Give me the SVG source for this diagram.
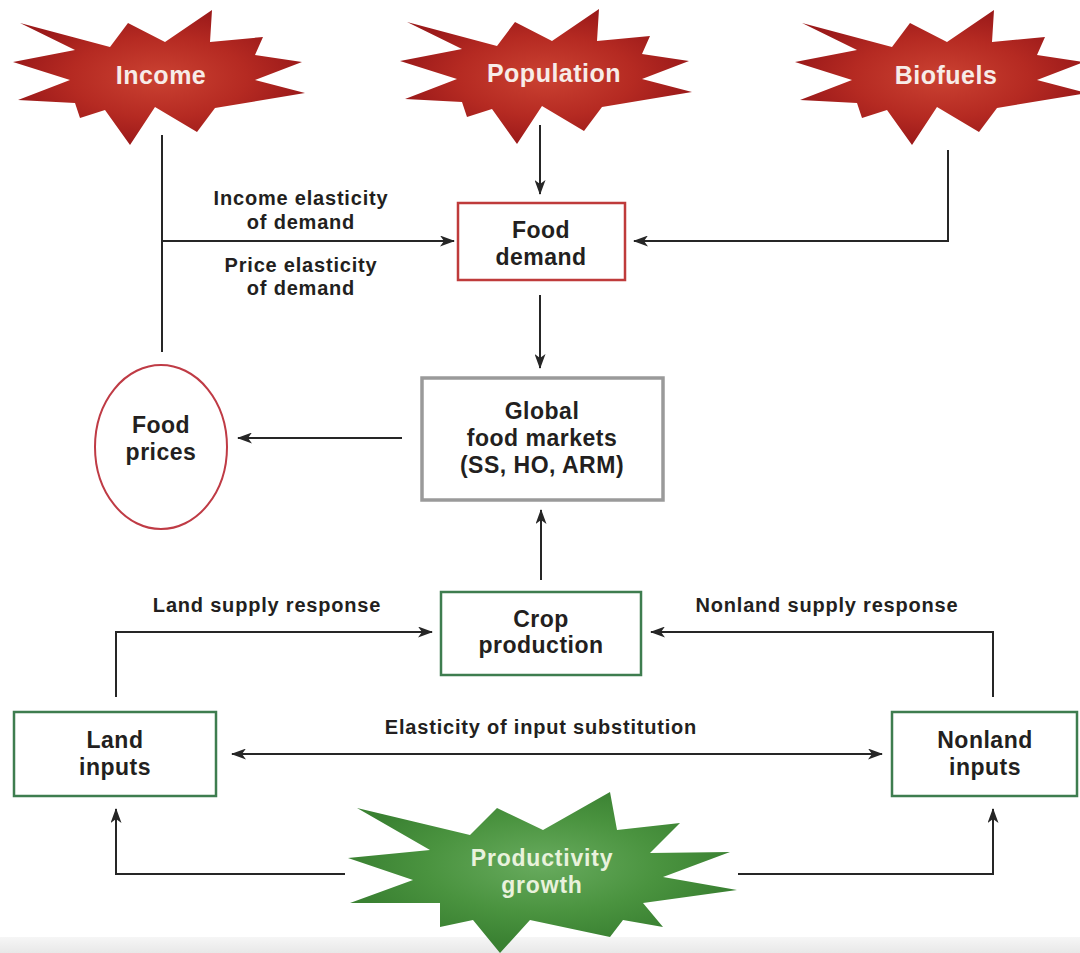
<svg xmlns="http://www.w3.org/2000/svg" xmlns:xlink="http://www.w3.org/1999/xlink" width="1080" height="953" viewBox="0 0 1080 953">
<style>
.t{font-family:"Liberation Sans",Arial,sans-serif;font-weight:bold;fill:#231f20;text-anchor:middle}
.n{font-size:23px;letter-spacing:0.5px}
.l{font-size:20px;letter-spacing:0.8px}
.s{font-size:25px;letter-spacing:0.5px;fill:#f7ece8}
.g{font-size:23px;letter-spacing:0.8px;fill:#e9f2dc}
.c{fill:none;stroke:#262626;stroke-width:2}
</style>
<defs>
<radialGradient id="rg" cx="0.5" cy="0.5" r="0.5">
<stop offset="0" stop-color="#cb4232"/>
<stop offset="0.6" stop-color="#b52a22"/>
<stop offset="1" stop-color="#9c1a1a"/>
</radialGradient>
<radialGradient id="gg" cx="0.5" cy="0.45" r="0.5">
<stop offset="0" stop-color="#68ab5e"/>
<stop offset="0.6" stop-color="#4a933f"/>
<stop offset="1" stop-color="#3a8132"/>
</radialGradient>
<linearGradient id="band" x1="0" y1="0" x2="0" y2="1">
<stop offset="0" stop-color="#f6f6f6"/>
<stop offset="1" stop-color="#e8e8e8"/>
</linearGradient>
<path id="star" d="M-140,-52 L-85,-25 L-147,-13 L-90,5 L-142,25 L-85,28 L-80,43 L-55,35 L-30,70 L-5,32 L37,57 L55,33 L145,18 L95,5 L142,-13 L95,-20 L103,-38 L50,-33 L52,-65 L5,-33 L-32,-52 L-50,-28 Z"/>
<marker id="ah" viewBox="0 0 15 11" refX="14" refY="5.5" markerWidth="15" markerHeight="11" markerUnits="userSpaceOnUse" orient="auto-start-reverse">
<path d="M0,0 L15,5.5 L0,11 L4,5.5 Z" fill="#262626"/>
</marker>
</defs>
<rect width="1080" height="953" fill="#ffffff"/>
<rect y="937" width="1080" height="16" fill="url(#band)"/>

<g id="connectors">
<polyline class="c" points="162,135 162,352"/>
<line class="c" x1="162" y1="241" x2="454" y2="241" marker-end="url(#ah)"/>
<line class="c" x1="540" y1="125" x2="540" y2="194" marker-end="url(#ah)"/>
<polyline class="c" points="948,150 948,241 634,241" marker-end="url(#ah)"/>
<line class="c" x1="540" y1="295" x2="540" y2="368" marker-end="url(#ah)"/>
<line class="c" x1="402" y1="438" x2="238" y2="438" marker-end="url(#ah)"/>
<line class="c" x1="541" y1="580" x2="541" y2="510" marker-end="url(#ah)"/>
<polyline class="c" points="116,697 116,632 432,632" marker-end="url(#ah)"/>
<polyline class="c" points="993,697 993,632 651,632" marker-end="url(#ah)"/>
<line class="c" x1="232" y1="754" x2="882" y2="754" marker-start="url(#ah)" marker-end="url(#ah)"/>
<polyline class="c" points="345,874 116,874 116,809" marker-end="url(#ah)"/>
<polyline class="c" points="738,874 993,874 993,809" marker-end="url(#ah)"/>
</g>

<g id="labels">
<text class="t l" x="301" y="205">Income elasticity</text>
<text class="t l" x="301" y="229">of demand</text>
<text class="t l" x="301" y="272">Price elasticity</text>
<text class="t l" x="301" y="295">of demand</text>
<text class="t l" x="267" y="612">Land supply response</text>
<text class="t l" x="827" y="612">Nonland supply response</text>
<text class="t l" x="541" y="734">Elasticity of input substitution</text>
</g>

<g id="income">
<use xlink:href="#star" href="#star" transform="translate(160,75)" fill="url(#rg)"/>
<text class="t s" x="161" y="84">Income</text>
</g>
<g id="population">
<use xlink:href="#star" href="#star" transform="translate(547,74)" fill="url(#rg)"/>
<text class="t s" x="554" y="82">Population</text>
</g>
<g id="biofuels">
<use xlink:href="#star" href="#star" transform="translate(942,75)" fill="url(#rg)"/>
<text class="t s" x="946" y="84">Biofuels</text>
</g>

<g id="food-demand">
<rect x="458" y="203" width="167" height="77" fill="#fff" stroke="#bf3b3b" stroke-width="2.5"/>
<text class="t n" x="541" y="238">Food</text>
<text class="t n" x="541" y="265">demand</text>
</g>

<g id="global-food-markets">
<rect x="422" y="378" width="241" height="122" fill="#fff" stroke="#9a9a9a" stroke-width="3.5"/>
<text class="t n" x="542" y="419">Global</text>
<text class="t n" x="542" y="446">food markets</text>
<text class="t n" x="542" y="473">(SS, HO, ARM)</text>
</g>

<g id="food-prices">
<ellipse cx="161" cy="447" rx="66" ry="82" fill="#fff" stroke="#bf3b45" stroke-width="2"/>
<text class="t n" x="161" y="433">Food</text>
<text class="t n" x="161" y="460">prices</text>
</g>

<g id="crop-production">
<rect x="441" y="592" width="200" height="83" fill="#fff" stroke="#3e7d4f" stroke-width="2.5"/>
<text class="t n" x="541" y="627">Crop</text>
<text class="t n" x="541" y="653">production</text>
</g>

<g id="land-inputs">
<rect x="14" y="712" width="202" height="84" fill="#fff" stroke="#3e7d4f" stroke-width="2.5"/>
<text class="t n" x="115" y="748">Land</text>
<text class="t n" x="115" y="775">inputs</text>
</g>

<g id="nonland-inputs">
<rect x="892" y="712" width="185" height="84" fill="#fff" stroke="#3e7d4f" stroke-width="2.5"/>
<text class="t n" x="985" y="748">Nonland</text>
<text class="t n" x="985" y="775">inputs</text>
</g>

<g id="productivity-growth">
<path d="M357,808 L470,835 L497,808 L543,830 L610,792 L617,830 L680,823 L650,853 L730,852 L663,877 L737,890 L643,903 L663,927 L623,920 L610,937 L530,920 L500,953 L473,920 L440,927 L440,903 L350,903 L413,880 L348,858 L430,850 Z" fill="url(#gg)"/>
<text class="t g" x="542" y="866">Productivity</text>
<text class="t g" x="542" y="893">growth</text>
</g>
</svg>
